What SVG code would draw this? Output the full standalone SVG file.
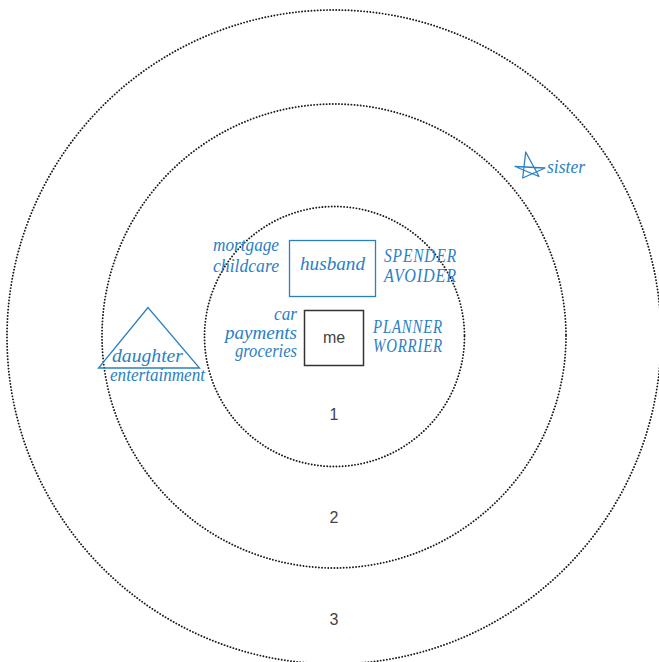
<svg xmlns="http://www.w3.org/2000/svg" width="659" height="662" viewBox="0 0 659 662">
<style>
.ring{fill:none;stroke:#1a1a1a;stroke-width:1.9;stroke-dasharray:0.01 3.1;stroke-linecap:round}
.hand{font-family:"Liberation Serif","DejaVu Serif",serif;font-style:italic;font-size:18px;fill:#2a80c4}
.caps{font-family:"Liberation Serif","DejaVu Serif",serif;font-style:italic;font-size:18px;fill:#2a80c4;letter-spacing:1px}
.num{font-family:"Liberation Sans",Arial,sans-serif;font-size:16px;fill:#444;text-anchor:middle}
.blue{fill:none;stroke:#2a80c4;stroke-width:1.3}
</style>
<rect width="659" height="662" fill="#fff"/>
<g id="rings">
<circle class="ring" cx="334" cy="337" r="327"/>
<circle class="ring" cx="334" cy="336" r="232"/>
<circle class="ring" cx="334.5" cy="336.5" r="130"/>
</g>
<g id="ring-labels">
<text class="num" x="334" y="420">1</text>
<text class="num" x="334" y="523">2</text>
<text class="num" x="334" y="625">3</text>
</g>
<g id="connectors"></g>
<g id="me">
<rect x="304.5" y="310.5" width="59" height="55" fill="none" stroke="#333" stroke-width="1.5"/>
<text class="num" x="334" y="343" font-size="15">me</text>
<text class="hand" x="297" y="320" text-anchor="end" textLength="23" lengthAdjust="spacingAndGlyphs">car</text>
<text class="hand" x="297" y="339" text-anchor="end" textLength="72" lengthAdjust="spacingAndGlyphs">payments</text>
<text class="hand" x="297" y="357" text-anchor="end" textLength="62" lengthAdjust="spacingAndGlyphs">groceries</text>
<text class="caps" x="373" y="333" textLength="70" lengthAdjust="spacingAndGlyphs">PLANNER</text>
<text class="caps" x="373" y="352" textLength="70" lengthAdjust="spacingAndGlyphs">WORRIER</text>
</g>
<g id="husband">
<rect class="blue" x="289.5" y="240.5" width="86" height="56"/>
<text class="hand" x="300" y="270" textLength="65" lengthAdjust="spacingAndGlyphs">husband</text>
<text class="hand" x="213" y="251" textLength="66" lengthAdjust="spacingAndGlyphs">mortgage</text>
<text class="hand" x="213" y="272" textLength="66" lengthAdjust="spacingAndGlyphs">childcare</text>
<text class="caps" x="384" y="262" textLength="73" lengthAdjust="spacingAndGlyphs">SPENDER</text>
<text class="caps" x="384" y="282" textLength="73" lengthAdjust="spacingAndGlyphs">AVOIDER</text>
</g>
<g id="daughter">
<polygon class="blue" points="148,307.5 98.5,368 199.5,368"/>
<text class="hand" x="112" y="362" textLength="71" lengthAdjust="spacingAndGlyphs">daughter</text>
<text class="hand" x="110" y="381" font-size="15" textLength="95" lengthAdjust="spacingAndGlyphs">entertainment</text>
</g>
<g id="sister">
<path class="blue" d="M522.7,178 L525.7,152 L539,176.5 L515,166.5 L545,168 Z" stroke-linejoin="round"/>
<text class="hand" x="547" y="173" font-size="16" textLength="38" lengthAdjust="spacingAndGlyphs">sister</text>
</g>
</svg>
